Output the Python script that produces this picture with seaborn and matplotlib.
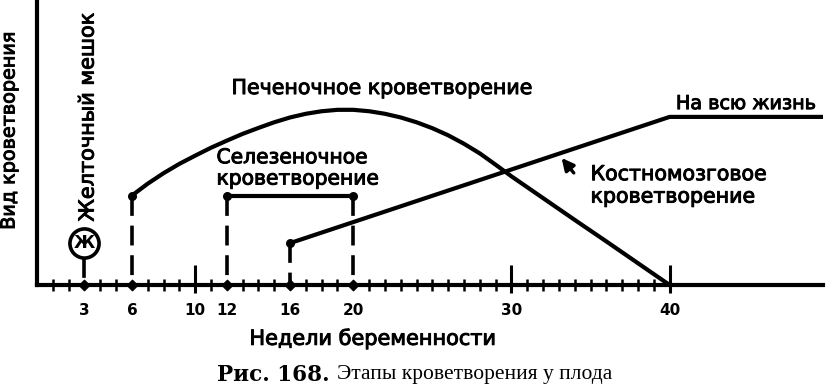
import matplotlib
matplotlib.use("Agg")
import matplotlib.pyplot as plt
import matplotlib.patheffects as pe
import seaborn as sns
import pandas as pd

# ---- data ----
liver_weeks = [6, 7, 8, 9, 10, 11, 12, 13, 14, 15, 16, 17, 18, 19, 20, 21, 22, 23, 24,
               25, 26, 27, 28, 29, 30, 32, 34, 36, 38, 40]
liver_level = [31.6, 35.8, 39.5, 42.8, 45.7, 48.5, 51.0, 53.4, 55.5, 57.5, 59.2, 60.5,
               61.4, 61.9, 61.9, 61.4, 60.5, 59.2, 57.5, 55.4, 52.9, 49.9, 46.5, 42.5,
               38.4, 30.7, 23.0, 15.4, 7.7, 0.0]
marrow_weeks = [16, 40, 49.7]
marrow_level = [14.8, 59.4, 59.4]
spleen_weeks = [12, 20]
spleen_level = [31.5, 31.5]
yolk_week = 3
yolk_level = 15.0
dot_weeks = [3, 6, 12, 16, 20]
tall_tick_weeks = [10, 30, 40]
label_weeks = [3, 6, 10, 12, 16, 20, 30, 40]
minor_weeks = list(range(1, 40))

sns.set_theme(style="white")
plt.rcParams['font.family'] = ['DejaVu Sans']
plt.rcParams['text.color'] = 'black'
plt.rcParams['axes.labelcolor'] = 'black'
plt.rcParams['xtick.color'] = 'black'
plt.rcParams['ytick.color'] = 'black'

thick = [pe.withStroke(linewidth=0.7, foreground="black")]

fig = plt.figure(figsize=(8.27, 3.90), dpi=100)
ax = fig.add_axes([37/827, 1-285/390, 786/827, 283/390])
ax.set_xlim(0, 49.7)
ax.set_ylim(0, 100)

lw = 3.0
df_liver = pd.DataFrame({"w": liver_weeks, "v": liver_level})
df_marrow = pd.DataFrame({"w": marrow_weeks, "v": marrow_level})
df_spleen = pd.DataFrame({"w": spleen_weeks, "v": spleen_level})
for d in (df_liver, df_marrow, df_spleen):
    sns.lineplot(data=d, x="w", y="v", ax=ax, color="black", lw=lw, sort=False,
                 solid_joinstyle="round")

# end dots
ax.scatter([liver_weeks[0]] + spleen_weeks + [marrow_weeks[0]],
           [liver_level[0]] + spleen_level + [marrow_level[0]],
           s=30, color="black", zorder=5)

# dashed drop lines
dash = (0, (5.5, 2.7))
for w, v in [(liver_weeks[0], liver_level[0]), (spleen_weeks[0], spleen_level[0]),
             (spleen_weeks[1], spleen_level[1]), (marrow_weeks[0], marrow_level[0])]:
    ax.plot([w, w], [v, 0], color="black", lw=2.6, linestyle=dash)
ax.plot([yolk_week, yolk_week], [yolk_level - 5.5, 0], color="black", lw=2.6, linestyle=dash)

# yolk sac circle
ax.scatter([yolk_week], [yolk_level], s=440, facecolor="white", edgecolor="black",
           linewidth=2.6, zorder=6)
ax.text(yolk_week, yolk_level, "Ж", ha="center", va="center", fontsize=12.5,
        fontweight="bold", zorder=7)
ax.text(3.2, 59.4, "Желточный мешок", rotation=90, ha="center", va="center",
        fontsize=15, path_effects=thick)

# axis dots and ticks
ax.scatter(dot_weeks, [0]*len(dot_weeks), s=28, marker="D", color="black",
           zorder=8, clip_on=False)
ax.vlines(tall_tick_weeks, -0.03, 0.07, transform=ax.get_xaxis_transform(),
          color="black", lw=2.2, clip_on=False)

ax.set_xticks(label_weeks)
ax.set_xticklabels([str(w) for w in label_weeks], fontsize=11, fontweight="bold")
ax.set_xticks(minor_weeks, minor=True)
ax.tick_params(axis="x", which="major", length=0, pad=13)
ax.tick_params(axis="x", which="minor", length=9, width=1.8, direction="inout",
               color="black", bottom=True)
ax.set_yticks([])

for s in ["top", "right"]:
    ax.spines[s].set_visible(False)
for s in ["left", "bottom"]:
    ax.spines[s].set_linewidth(3)
    ax.spines[s].set_color("black")

ax.set_xlabel("Недели беременности", fontsize=15, path_effects=thick)
ax.xaxis.set_label_coords((373-37)/786, -(328-285)/283, transform=ax.transAxes)
ax.set_ylabel("")
fig.text(9/827, 1-131/390, "Вид кроветворения", rotation=90, ha="center",
         va="center", fontsize=13.8, path_effects=thick)

# labels
ax.text(12.3, 69.6, "Печеночное кроветворение", ha="left", va="center",
        fontsize=14.8, path_effects=thick)
ax.text(11.35, 41.2, "Селезеночное\nкроветворение", ha="left", va="center",
        fontsize=14.6, linespacing=1.15, path_effects=thick)
ax.text(40.4, 64.1, "На всю жизнь", ha="left", va="center", fontsize=13.8,
        path_effects=thick)
ax.text(35.0, 35.2, "Костномозговое\nкроветворение", ha="left", va="center",
        fontsize=14.8, linespacing=1.15, path_effects=thick)
ax.annotate("", xy=(33.17, 44.9), xytext=(33.94, 39.6),
            arrowprops=dict(arrowstyle="-|>", color="black", lw=2.4,
                            mutation_scale=18, shrinkA=0, shrinkB=0))

# caption
fig.text(330/827, 1-375/390, "Рис. 168.", ha="right", va="center", fontsize=15.5,
         fontweight="bold", family=["DejaVu Serif"])
fig.text(337/827, 1-375/390, "Этапы кроветворения у плода", ha="left", va="center",
         fontsize=15.5, family=["Liberation Serif", "DejaVu Serif"])

fig.savefig("out.png", dpi=100)
